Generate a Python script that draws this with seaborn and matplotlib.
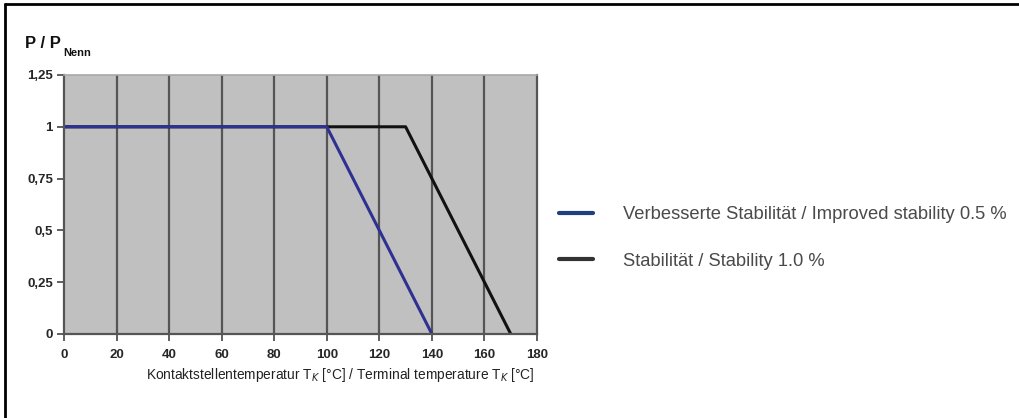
import matplotlib
matplotlib.use("Agg")
import matplotlib.pyplot as plt
import seaborn as sns
import pandas as pd
from matplotlib.lines import Line2D

# data
improved_x = [0, 100, 140]
improved_y = [1, 1, 0]
standard_x = [0, 130, 170]
standard_y = [1, 1, 0]
series_names = ["Verbesserte Stabilität / Improved stability 0.5 %",
                "Stabilität / Stability 1.0 %"]
x_ticks = [0, 20, 40, 60, 80, 100, 120, 140, 160, 180]
y_ticks = [0, 0.25, 0.5, 0.75, 1, 1.25]
y_tick_labels = ["0", "0,25", "0,5", "0,75", "1", "1,25"]

df = pd.DataFrame({
    "T": standard_x + improved_x,
    "P": standard_y + improved_y,
    "series": [series_names[1]] * len(standard_x) + [series_names[0]] * len(improved_x),
})

sns.set_style("white")
plt.rcParams["font.family"] = ["Liberation Sans", "DejaVu Sans"]

fig = plt.figure(figsize=(10.19, 4.18), dpi=100)
ax = fig.add_axes([0.0628, 0.201, 0.4642, 0.6196])
ax.set_facecolor("#c0c0c0")

blue = "#2e3192"
black = "#111111"
sns.lineplot(data=df, x="T", y="P", hue="series",
             hue_order=[series_names[1], series_names[0]],
             palette=[black, blue], linewidth=2.2, ax=ax, legend=False,
             sort=False, estimator=None)

ax.set_xlim(0, 180)
ax.set_ylim(0, 1.25)
ax.set_xticks(x_ticks)
ax.set_xticklabels([str(t) for t in x_ticks], fontsize=9.5, fontweight="bold")
ax.set_yticks(y_ticks)
ax.set_yticklabels(y_tick_labels, fontsize=9.5, fontweight="bold")
ax.tick_params(axis="both", direction="out", length=5, width=1.2, color="#444444",
               left=True, bottom=True)
ax.tick_params(axis="y", pad=3)
ax.tick_params(axis="x", pad=6)
ax.grid(False)
for xv in x_ticks[1:-1]:
    ax.axvline(xv, color="#555555", linewidth=1.6, zorder=0.5)
for s in ["left", "bottom", "right"]:
    ax.spines[s].set_color("#555555")
    ax.spines[s].set_linewidth(1.6)
ax.spines["top"].set_color("#a8a8a8")
ax.spines["top"].set_linewidth(1.2)
ax.set_xlabel("")
ax.set_ylabel("")

# axis label & title
fig.text(0.3337, 0.103, "Kontaktstellentemperatur T$_K$ [°C] / Terminal temperature T$_K$ [°C]",
         ha="center", va="center", fontsize=9.9, color="#222222")
fig.text(0.025, 0.895, "P / P", ha="left", va="center", fontsize=12,
         fontweight="bold", color="#111111")
fig.text(0.0625, 0.874, "Nenn", ha="left", va="center", fontsize=8,
         fontweight="bold", color="#111111")

# legend
handles = [Line2D([], [], color="#1f3f80", linewidth=3),
           Line2D([], [], color="#333333", linewidth=3)]
fig.legend(handles, series_names, loc="center left",
           bbox_to_anchor=(0.532, 0.431), frameon=False, fontsize=13.2,
           handlelength=1.9, handletextpad=1.6, labelspacing=1.6,
           labelcolor="#4a4a4a")

# outer frame (top and left edges visible)
fig.add_artist(Line2D([0.0049, 1.0], [0.9904, 0.9904], color="black", linewidth=2,
                      transform=fig.transFigure))
fig.add_artist(Line2D([0.0049, 0.0049], [0.0, 0.9904], color="black", linewidth=2,
                      transform=fig.transFigure))

fig.savefig("out.png", dpi=100)
